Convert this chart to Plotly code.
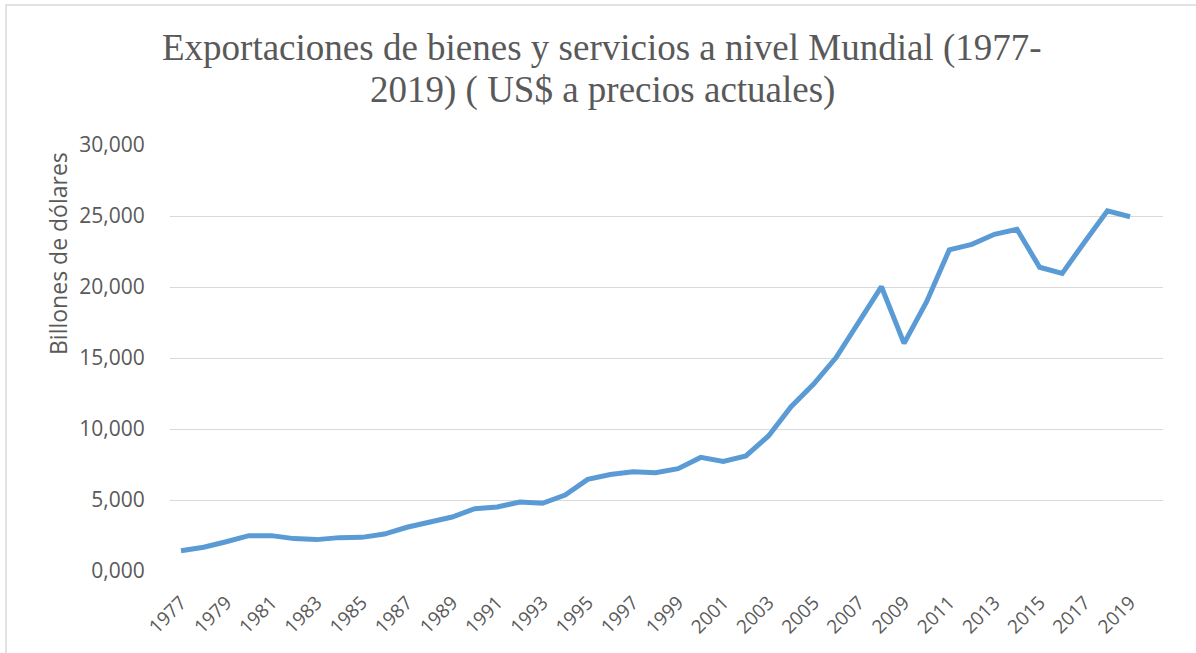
import plotly.graph_objects as go

years = list(range(1977, 2020))
exports = [1430, 1670, 2060, 2490, 2490, 2280, 2210, 2350, 2370, 2600,
           3080, 3470, 3800, 4390, 4510, 4860, 4770, 5350, 6450, 6800,
           6990, 6920, 7210, 8000, 7720, 8100, 9510, 11570, 13170, 15050,
           17560, 20020, 16030, 18970, 22610, 23000, 23710, 24060, 21390, 20960,
           23190, 25370, 24950]

y_tickvals = [0, 5000, 10000, 15000, 20000, 25000, 30000]
y_ticktext = ["0,000", "5,000", "10,000", "15,000", "20,000", "25,000", "30,000"]
x_tickvals = list(range(1977, 2020, 2))
x_ticktext = [str(y) for y in x_tickvals]

title_lines = ["Exportaciones de bienes y servicios a nivel Mundial (1977-",
               "2019) ( US$ a precios actuales)"]
y_title = "Billones de dólares"

fig = go.Figure()
fig.add_trace(go.Scatter(
    x=years, y=exports, mode="lines",
    line=dict(color="#5B9BD5", width=5, shape="linear"),
    hoverinfo="x+y", showlegend=False,
))

L, R, T, B = 170, 33, 145, 82
W, H = 1196, 653
pw, ph = W - L - R, H - T - B

def px_x(x):
    return (x - L) / pw

def px_y(y):
    return (H - B - y) / ph

step = (1130 - 181) / 42.0
x_lo = 1977 - (181 - L) / step
x_hi = 2019 + (L + pw - 1130) / step

fig.update_layout(
    width=W, height=H,
    margin=dict(l=L, r=R, t=T, b=B, autoexpand=False),
    paper_bgcolor="white", plot_bgcolor="white",
    font=dict(family="Open Sans", color="#595959"),
)
fig.update_xaxes(
    range=[x_lo, x_hi], tickvals=x_tickvals, ticktext=x_ticktext,
    tickangle=-45, tickfont=dict(size=19, color="#595959"),
    ticks="outside", ticklen=12, tickcolor="rgba(0,0,0,0)",
    showgrid=False, showline=False, zeroline=False, fixedrange=True,
    automargin=False,
)
fig.update_yaxes(
    range=[0, 30000], tickvals=y_tickvals, ticktext=y_ticktext,
    tickfont=dict(size=21, color="#595959"),
    ticks="outside", ticklen=20, tickcolor="rgba(0,0,0,0)",
    showgrid=True, gridcolor="#D9D9D9", gridwidth=1.3,
    zeroline=False, showline=False, fixedrange=True,
    automargin=False,
)
for text, yc in zip(title_lines, [48, 90]):
    fig.add_annotation(
        text=text, showarrow=False, xref="paper", yref="paper",
        x=px_x(602), y=px_y(yc), xanchor="center", yanchor="middle",
        font=dict(family="Liberation Serif", size=37, color="#595959"),
    )
fig.add_annotation(
    text=y_title, textangle=-90, showarrow=False,
    xref="paper", yref="paper",
    x=px_x(58), y=px_y(254),
    xanchor="center", yanchor="middle",
    font=dict(family="Open Sans", size=23, color="#595959"),
)
# outer chart border (left and top edges visible)
fig.add_shape(type="rect", xref="paper", yref="paper",
              x0=px_x(6), x1=px_x(1210),
              y0=px_y(670), y1=px_y(5),
              line=dict(color="#D9D9D9", width=1.5), fillcolor="rgba(0,0,0,0)",
              layer="below")

fig.write_html("out.html", config={"displayModeBar": False},
               post_script="document.body.style.margin='0';document.body.style.overflow='hidden';")
